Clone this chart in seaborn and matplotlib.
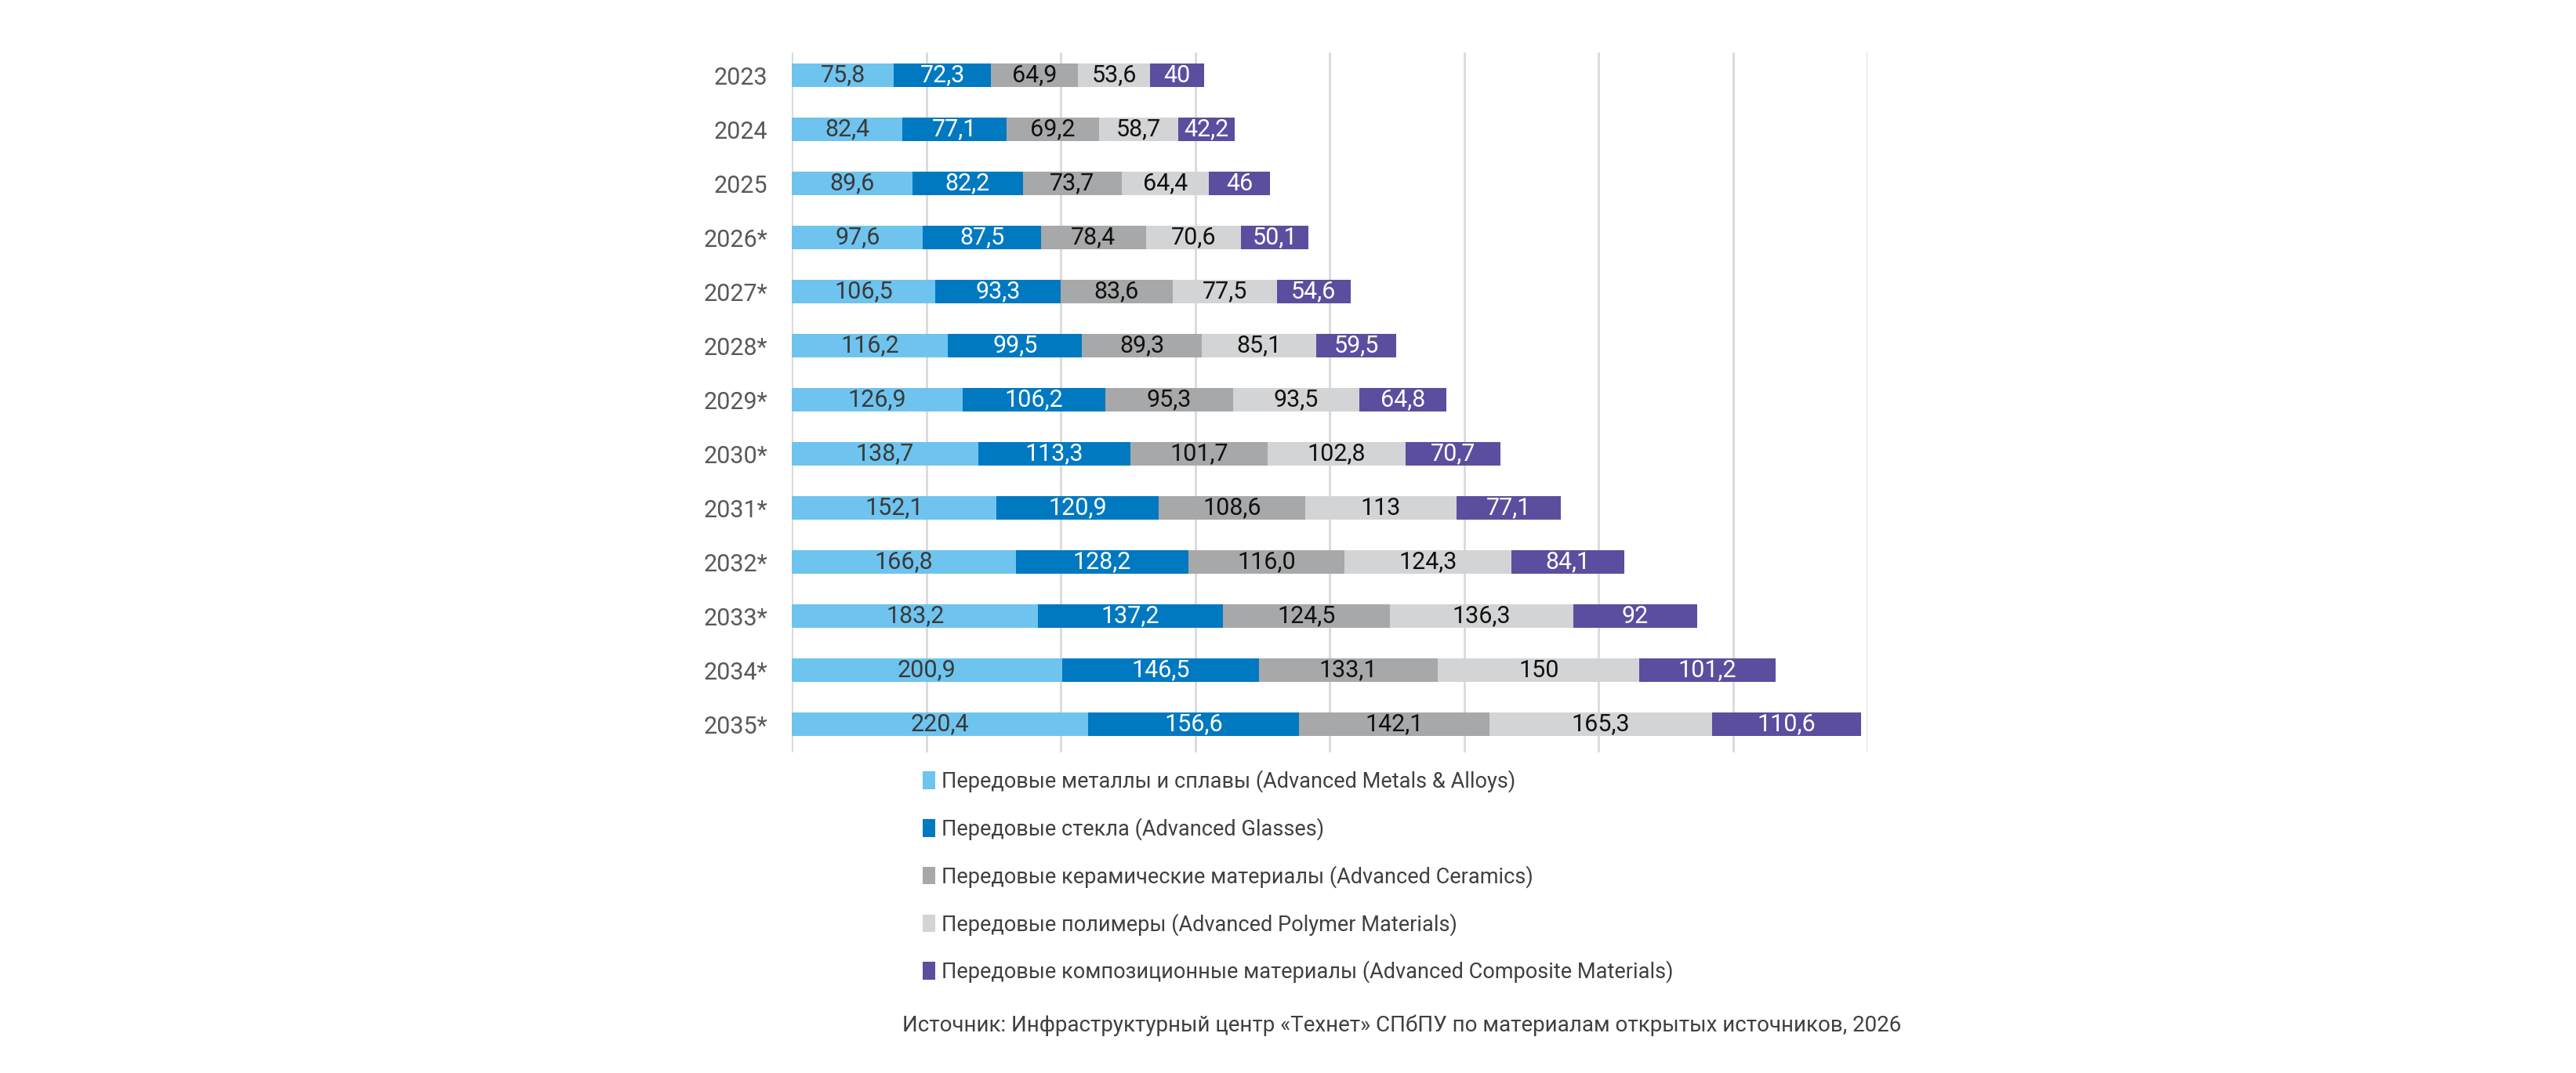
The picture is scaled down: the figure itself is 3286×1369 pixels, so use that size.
import matplotlib
matplotlib.use('Agg')
import pandas as pd
import matplotlib.pyplot as plt
from matplotlib.patches import Patch
import seaborn as sns

# Values as printed on the chart (comma decimal)
years = ['2023', '2024', '2025', '2026*', '2027*', '2028*', '2029*',
         '2030*', '2031*', '2032*', '2033*', '2034*', '2035*']
metals = ['75,8', '82,4', '89,6', '97,6', '106,5', '116,2', '126,9',
          '138,7', '152,1', '166,8', '183,2', '200,9', '220,4']
glasses = ['72,3', '77,1', '82,2', '87,5', '93,3', '99,5', '106,2',
           '113,3', '120,9', '128,2', '137,2', '146,5', '156,6']
ceramics = ['64,9', '69,2', '73,7', '78,4', '83,6', '89,3', '95,3',
            '101,7', '108,6', '116,0', '124,5', '133,1', '142,1']
polymers = ['53,6', '58,7', '64,4', '70,6', '77,5', '85,1', '93,5',
            '102,8', '113', '124,3', '136,3', '150', '165,3']
composites = ['40', '42,2', '46', '50,1', '54,6', '59,5', '64,8',
              '70,7', '77,1', '84,1', '92', '101,2', '110,6']

series_names = [
    'Передовые металлы и сплавы (Advanced Metals & Alloys)',
    'Передовые стекла (Advanced Glasses)',
    'Передовые керамические материалы (Advanced Ceramics)',
    'Передовые полимеры (Advanced Polymer Materials)',
    'Передовые композиционные материалы (Advanced Composite Materials)',
]
colors = ['#6ec4ee', '#0079c1', '#a7a8aa', '#d3d4d6', '#5b4e9f']
label_colors = ['#3a3a3a', 'white', '#111111', '#111111', 'white']
source_text = 'Источник: Инфраструктурный центр «Технет» СПбПУ по материалам открытых источников, 2026'

series_labels = [metals, glasses, ceramics, polymers, composites]

# numeric table + cumulative sums for stacking
df = pd.DataFrame({'year': years})
for name, vals in zip(series_names, series_labels):
    df[name] = [float(v.replace(',', '.')) for v in vals]
cum = df[series_names].cumsum(axis=1)
cum['year'] = years

sns.set_style('white')
plt.rcParams['font.family'] = ['Roboto', 'DejaVu Sans']

fig = plt.figure(figsize=(32.87, 13.69), dpi=100)
ax = fig.add_axes([0.3073, 0.2988, 0.4174, 0.6522])

# draw cumulative totals back to front so every segment shows
for i in range(len(series_names) - 1, -1, -1):
    sns.barplot(data=cum, x=series_names[i], y='year', orient='h',
                color=colors[i], saturation=1, width=0.43, linewidth=0, ax=ax)

# segment labels
for i, name in enumerate(series_names):
    left = cum[name] - df[name]
    for j in range(len(years)):
        ax.text(left[j] + df[name][j] / 2, j, series_labels[i][j],
                ha='center', va='center', fontsize=22, color=label_colors[i])

ax.set_xlim(0, 800)
ax.set_ylim(12.52, -0.42)
ax.set_xticks(range(0, 801, 100))
ax.set_xticklabels([])
ax.xaxis.grid(True, color='#d9d9d9', linewidth=2)
ax.set_axisbelow(True)
ax.set_xlabel('')
ax.set_ylabel('')
ax.tick_params(axis='both', length=0)
ax.tick_params(axis='y', pad=22, labelsize=22, labelcolor='#595959')
sns.despine(ax=ax, left=True, bottom=True)

handles = [Patch(facecolor=c, edgecolor='none') for c in colors]
fig.legend(handles, series_names, loc='upper left', bbox_to_anchor=(0.3506, 0.300),
           frameon=False, fontsize=19.5, handlelength=0.6, handleheight=0.9,
           handletextpad=0.3, labelspacing=1.18, labelcolor='#404040')

fig.text(0.544, 1 - 1308 / 1369, source_text, ha='center', va='center',
         fontsize=20, color='#404040')

fig.savefig('out.png', dpi=100, facecolor='white')
